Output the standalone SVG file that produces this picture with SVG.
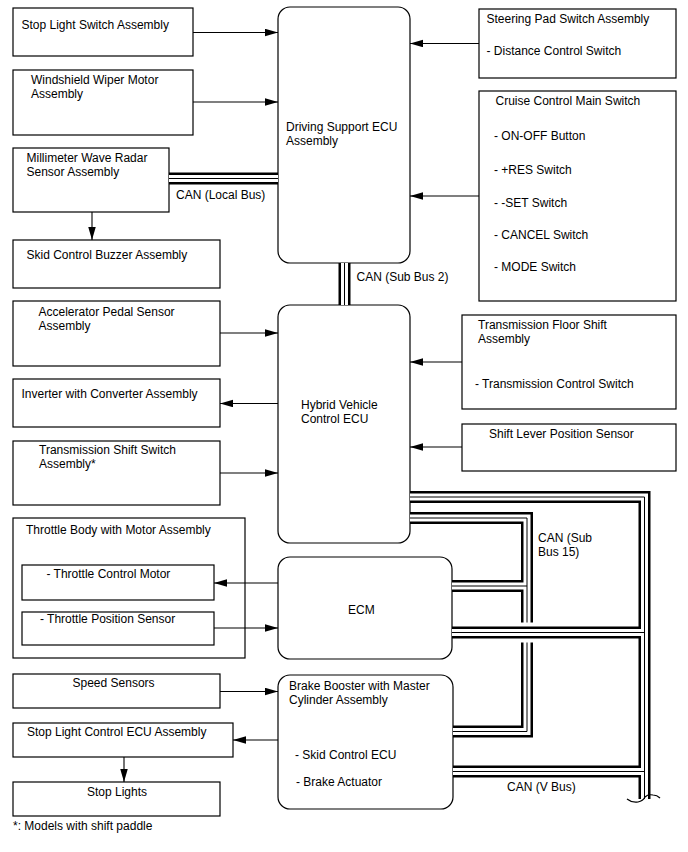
<svg xmlns="http://www.w3.org/2000/svg" xmlns:xlink="http://www.w3.org/1999/xlink" width="688" height="852" viewBox="0 0 688 852">
<style>
text{font-family:"Liberation Sans",Arial,sans-serif;font-size:12px;fill:#000}
.box{fill:#fff;stroke:#000;stroke-width:1.2}
.ecu{fill:#fff;stroke:#000;stroke-width:1.2}
.ar{stroke:#000;stroke-width:1.1;fill:none;marker-end:url(#ah)}
.bo{stroke:#000;stroke-width:12;fill:none;stroke-linejoin:miter}
.bw{stroke:#fff;stroke-width:7;fill:none;stroke-linejoin:miter}
.bi{stroke:#000;stroke-width:1;fill:none;stroke-linejoin:miter}
.gap{stroke:#fff;stroke-width:20;fill:none}
</style>
<defs>
<marker id="ah" markerUnits="userSpaceOnUse" markerWidth="13" markerHeight="8" refX="13" refY="3.75" orient="auto">
<path d="M0,0 L13,3.75 L0,7.5 z" fill="#000"/>
</marker>
<path id="local" d="M169,178.5 H278"/>
<path id="sub2" d="M344.5,263 V305"/>
<path id="b15" d="M410,518 H527 V731.5 H453"/>
<path id="b15e" d="M452,586 H527"/>
<path id="vb" d="M410,497 H644.5 V799"/>
<path id="vbe" d="M452,632.5 H644.5"/>
<path id="vbb" d="M453,771.5 H644.5"/>
</defs>
<rect width="688" height="852" fill="#fff"/>

<g id="stop-light-switch"><rect class="box" x="13" y="8" width="180" height="48"/><text x="21.5" y="29">Stop Light Switch Assembly</text></g>
<g id="wiper-motor"><rect class="box" x="13" y="70" width="180" height="65"/><text x="31" y="84">Windshield Wiper Motor</text><text x="31" y="98">Assembly</text></g>
<g id="radar-sensor"><rect class="box" x="13" y="148" width="156" height="64"/><text x="26.5" y="162">Millimeter Wave Radar</text><text x="26.5" y="176">Sensor Assembly</text></g>
<g id="skid-buzzer"><rect class="box" x="13" y="240" width="207" height="48"/><text x="26.5" y="259">Skid Control Buzzer Assembly</text></g>
<g id="driving-support-ecu"><rect class="ecu" x="278" y="7" width="132" height="256" rx="12"/><text x="286" y="131">Driving Support ECU</text><text x="286" y="145">Assembly</text></g>
<g id="steering-pad"><rect class="box" x="479" y="9" width="197" height="69"/><text x="486.5" y="23">Steering Pad Switch Assembly</text><text x="486.5" y="55">- Distance Control Switch</text></g>
<g id="cruise-switch"><rect class="box" x="479" y="91" width="197" height="210"/><text x="495.5" y="105">Cruise Control Main Switch</text><text x="494" y="140">- ON-OFF Button</text><text x="494" y="174">- +RES Switch</text><text x="494" y="207">- -SET Switch</text><text x="494" y="239">- CANCEL Switch</text><text x="494" y="271">- MODE Switch</text></g>
<g id="accelerator"><rect class="box" x="13" y="301" width="207" height="65"/><text x="38.5" y="316">Accelerator Pedal Sensor</text><text x="38.5" y="330">Assembly</text></g>
<g id="inverter"><rect class="box" x="13" y="379" width="207" height="48"/><text x="21.5" y="398">Inverter with Converter Assembly</text></g>
<g id="trans-shift-switch"><rect class="box" x="13" y="441" width="207" height="64"/><text x="39" y="454">Transmission Shift Switch</text><text x="39" y="468">Assembly*</text></g>
<g id="hybrid-ecu"><rect class="ecu" x="278" y="305" width="132" height="238" rx="12"/><text x="301" y="409">Hybrid Vehicle</text><text x="301" y="423">Control ECU</text></g>
<g id="floor-shift"><rect class="box" x="462" y="315" width="214" height="94"/><text x="478" y="329">Transmission Floor Shift</text><text x="478" y="343">Assembly</text><text x="475" y="388">- Transmission Control Switch</text></g>
<g id="shift-lever-sensor"><rect class="box" x="462" y="424" width="214" height="47"/><text x="489" y="438">Shift Lever Position Sensor</text></g>
<g id="throttle-body"><rect class="box" x="13" y="518" width="232" height="140"/><text x="26" y="534">Throttle Body with Motor Assembly</text></g>
<g id="throttle-motor"><rect class="box" x="22" y="565" width="192" height="35"/><text x="46.5" y="578">- Throttle Control Motor</text></g>
<g id="throttle-position"><rect class="box" x="22" y="612" width="192" height="33"/><text x="40" y="623">- Throttle Position Sensor</text></g>
<g id="ecm"><rect class="ecu" x="278" y="557" width="174" height="102" rx="12"/><text x="348" y="614">ECM</text></g>
<g id="speed-sensors"><rect class="box" x="13" y="674" width="207" height="34"/><text x="72.5" y="687">Speed Sensors</text></g>
<g id="stop-light-ecu"><rect class="box" x="13" y="723" width="220" height="34"/><text x="27" y="736">Stop Light Control ECU Assembly</text></g>
<g id="stop-lights"><rect class="box" x="13" y="782" width="207" height="34"/><text x="87" y="796">Stop Lights</text></g>
<g id="brake-booster"><rect class="ecu" x="278" y="675" width="175" height="134" rx="12"/><text x="289" y="690">Brake Booster with Master</text><text x="289" y="704">Cylinder Assembly</text><text x="295" y="759">- Skid Control ECU</text><text x="296" y="786">- Brake Actuator</text></g>
<text id="footnote" x="13" y="830">*: Models with shift paddle</text>

<g id="connectors">
<use href="#local" class="bo"/><use href="#local" class="bw"/><use href="#local" class="bi"/>
<use href="#sub2" class="bo"/><use href="#sub2" class="bw"/><use href="#sub2" class="bi"/>
<use href="#b15" class="bo"/><use href="#b15e" class="bo"/>
<use href="#b15" class="bw"/><use href="#b15e" class="bw"/>
<use href="#b15" class="bi"/><use href="#b15e" class="bi"/>
<path class="gap" d="M512,632.5 H542"/>
<use href="#vb" class="bo"/><use href="#vbe" class="bo"/><use href="#vbb" class="bo"/>
<use href="#vb" class="bw"/><use href="#vbe" class="bw"/><use href="#vbb" class="bw"/>
<use href="#vb" class="bi"/><use href="#vbe" class="bi"/><use href="#vbb" class="bi"/>
<path d="M627,799 Q632,803 638,802 Q643,801 645,797 Q648,794 653,795 Q657,795 660,798" fill="none" stroke="#000" stroke-width="1.2"/>
<path class="ar" d="M193,32.5 H278"/>
<path class="ar" d="M193,102 H278"/>
<path class="ar" d="M92,212 V240"/>
<path class="ar" d="M479,43.5 H410"/>
<path class="ar" d="M479,196 H410"/>
<path class="ar" d="M220,333 H278"/>
<path class="ar" d="M278,403.5 H220"/>
<path class="ar" d="M220,473 H278"/>
<path class="ar" d="M462,362 H410"/>
<path class="ar" d="M462,447 H410"/>
<path class="ar" d="M278,583 H214"/>
<path class="ar" d="M214,628 H278"/>
<path class="ar" d="M220,691.5 H278"/>
<path class="ar" d="M278,740 H233"/>
<path class="ar" d="M124,757 V782"/>
<text x="176" y="199">CAN (Local Bus)</text>
<text x="356.5" y="281">CAN (Sub Bus 2)</text>
<text x="538" y="542">CAN (Sub</text>
<text x="538" y="556">Bus 15)</text>
<text x="507" y="791">CAN (V Bus)</text>
</g>
</svg>
